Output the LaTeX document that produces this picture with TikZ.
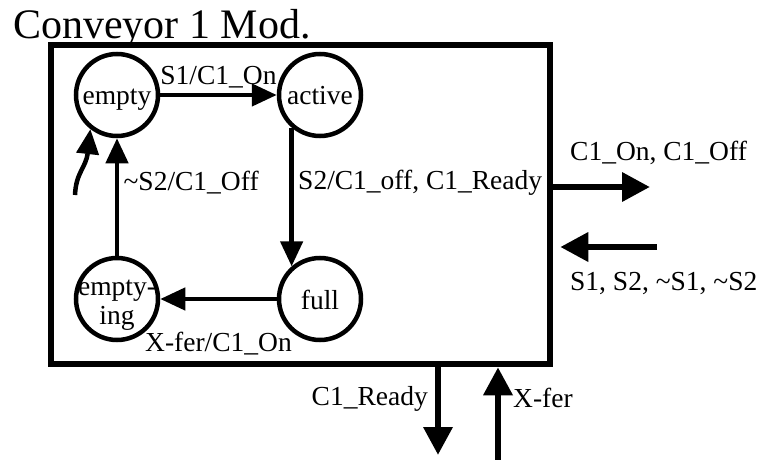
\documentclass[tikz,border=0pt]{standalone}
\usepackage{fontspec}
\setmainfont{Liberation Serif}
\usetikzlibrary{arrows.meta, positioning}

\begin{document}
\begin{tikzpicture}[x=1pt, y=-1pt,
    >={Triangle[length=25pt, width=22pt]},
    state/.style={draw, circle, line width=4.5pt, minimum size=82pt, inner sep=0pt,
        text height=20pt, text depth=0pt, font=\fontsize{27.5}{29}\selectfont},
    trans/.style={->, line width=4.5pt},
    port/.style={-{Triangle[length=28pt, width=28pt]}, line width=6.5pt},
    lab/.style={font=\fontsize{27.5}{29}\selectfont}]
    \useasboundingbox (0,0) rectangle (761,460);

    % Title and module frame
    \node[anchor=base west, inner sep=0pt, font=\fontsize{42}{46}\selectfont] (title) at (13,39) {Conveyor 1 Mod.};
    \node[draw, line width=6.5pt, minimum width=499pt, minimum height=319pt] (mod) at (300.5,204.5) {};

    % States of the conveyor
    \node[state] (empty) at (117,95) {empty};
    \node[state] (active) at (320,95) {active};
    \node[state] (full) at (320,299) {full};
    \node[state, label={[lab, align=center, yshift=-6pt]center:empty-\\ing}] (emptying) at (117,299) {};

    % Transitions between states
    \draw[trans] (empty) -- (active) node[lab, midway, above=1pt] {S1/C1\_On};
    \draw[trans] (active.-131) -- (full.131) node[lab, pos=0.4, right=1pt] {S2/C1\_off, C1\_Ready};
    \draw[trans] (full) -- (emptying) node[lab, midway, below=28pt] {X-fer/C1\_On};
    \draw[trans] (emptying) -- (empty) node[lab, pos=0.62, right=1pt] {\textasciitilde S2/C1\_Off};
    \coordinate (stub) at (75,195);
    \draw[trans] (stub) .. controls (76,172) and (86,168) .. (empty.-128); % initial state

    % Signals in and out of the module
    \coordinate (outend) at (650,187);
    \coordinate (inbeg) at (657,247);
    \coordinate (readyend) at (438,455);
    \coordinate (xferbeg) at (498,460);
    \draw[port] (mod.east |- outend) -- (outend);
    \draw[port, shorten >=7pt] (inbeg) -- (mod.east |- inbeg);
    \draw[port] (mod.south -| readyend) -- (readyend);
    \draw[port] (xferbeg) -- (mod.south -| xferbeg);

    % Signal names
    \node[lab, anchor=base west, inner sep=0pt] (outlab) at (570,160) {C1\_On, C1\_Off};
    \node[lab, anchor=base west, inner sep=0pt] (inlab) at (570,290) {S1, S2, \textasciitilde S1, \textasciitilde S2};
    \node[lab, anchor=base east, inner sep=0pt] (readylab) at (428,405) {C1\_Ready};
    \node[lab, anchor=base west, inner sep=0pt] (xferlab) at (513,407) {X-fer};
\end{tikzpicture}
\end{document}
